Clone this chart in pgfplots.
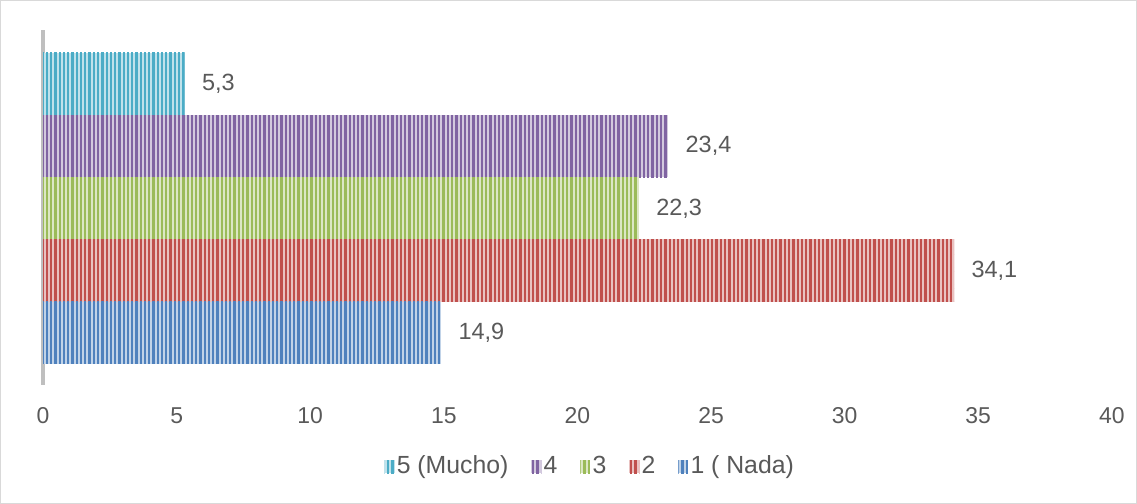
\documentclass[border=0pt]{standalone}
\usepackage{pgfplots}
\pgfplotsset{compat=1.18}
\usepackage{fontspec}
\setmainfont{Liberation Sans}
\usetikzlibrary{patterns.meta}
\definecolor{cfive}{HTML}{4BACC6}
\definecolor{cfour}{HTML}{8064A2}
\definecolor{cthree}{HTML}{9BBB59}
\definecolor{ctwo}{HTML}{C0504D}
\definecolor{cone}{HTML}{4F81BD}
\definecolor{txt}{HTML}{595959}
\definecolor{axgray}{HTML}{BFBFBF}
\definecolor{framegray}{HTML}{D9D9D9}
\tikzset{striped/.style={fill=#1!35, draw=none,
  postaction={pattern={Lines[angle=90,distance=1.6pt,line width=0.85pt]}, pattern color=#1}}}

\begin{document}
\begin{tikzpicture}
\begin{axis}[
  name=ax,
  scale only axis, width=400.9pt, height=133.1pt,
  xbar, bar width=1, bar shift=0pt,
  xmin=0, xmax=40, xtick distance=5,
  ymin=0.16, ymax=5.87, ytick=\empty,
  axis lines*=left, axis line style={-},
  x axis line style={draw=none},
  y axis line style={draw=axgray, line width=1.2pt},
  xtick style={draw=none},
  tick label style={font=\fontsize{8.6}{10}\selectfont, text=txt},
  xticklabel style={yshift=-5pt},
  /pgf/number format/assume math mode=true,
  point meta=x,
  nodes near coords,
  nodes near coords style={anchor=west, xshift=3pt, font=\fontsize{8.8}{10}\selectfont, text=txt,
    /pgf/number format/.cd, use comma, fixed, precision=1, fixed zerofill},
  legend columns=-1,
  legend style={at={(0.512,-0.231)}, anchor=center, draw=none, fill=none,
    font=\fontsize{9.3}{10}\selectfont, text=txt,
    nodes={inner xsep=0.8pt},
    /tikz/every odd column/.append style={column sep=0pt},
    /tikz/every even column/.append style={column sep=7.8pt}},
  legend image code/.code={\path[#1] (0pt,-2.5pt) rectangle (3.8pt,2.5pt);},
  clip=false,
]
\addplot[striped=cfive] coordinates {(5.3,5)};
\addlegendentry{5 (Mucho)}
\addplot[striped=cfour] coordinates {(23.4,4)};
\addlegendentry{4}
\addplot[striped=cthree] coordinates {(22.3,3)};
\addlegendentry{3}
\addplot[striped=ctwo] coordinates {(34.1,2)};
\addlegendentry{2}
\addplot[striped=cone] coordinates {(14.9,1)};
\addlegendentry{1 ( Nada)}
\end{axis}
\draw[framegray, line width=0.5pt] ([shift={(-15.9pt,-44.4pt)}]ax.south west) rectangle ([shift={(9.2pt,11pt)}]ax.north east);
\end{tikzpicture}
\end{document}
